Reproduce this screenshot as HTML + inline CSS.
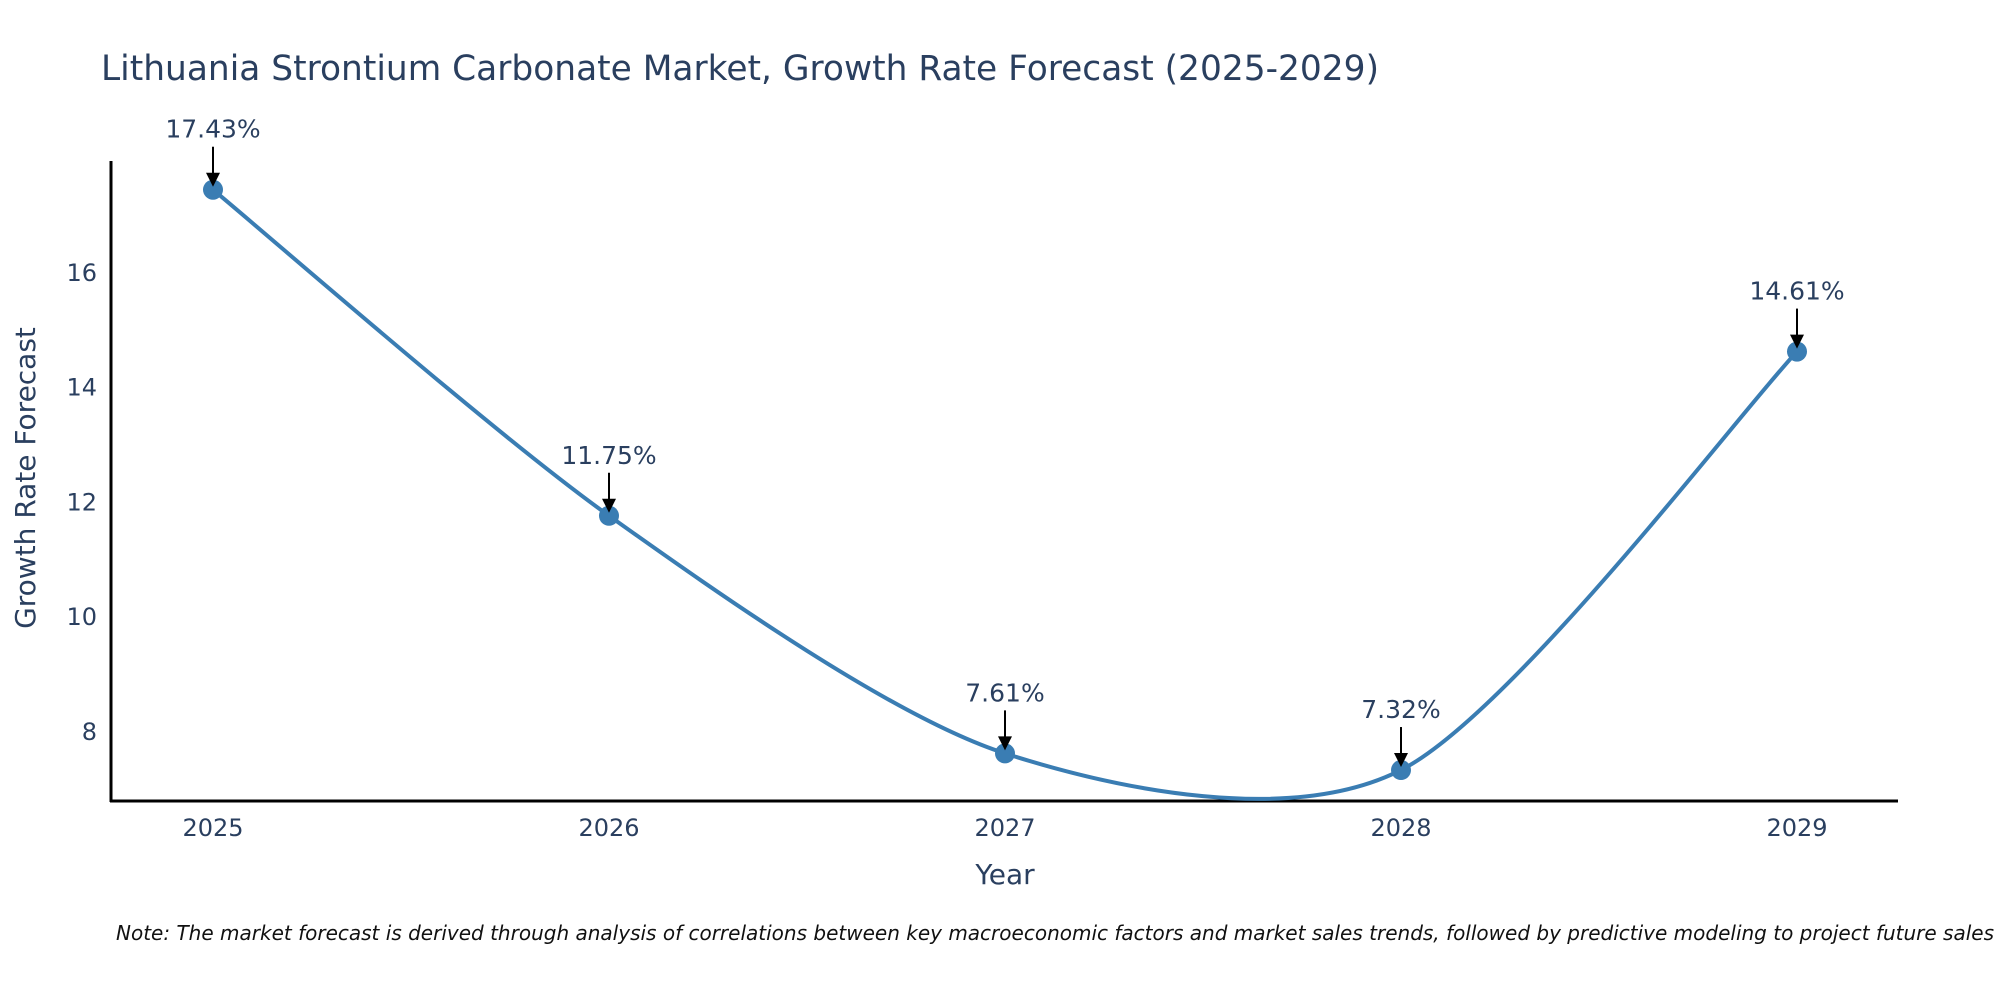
<!DOCTYPE html>
<html><head><meta charset="utf-8"><style>
html,body{margin:0;padding:0;background:#fff;width:2000px;height:1000px;overflow:hidden}
svg text{font-family:"DejaVu Sans","Liberation Sans",sans-serif;fill:#2a3f5f}
</style></head><body>
<svg id="chart" width="2000" height="1000" xmlns="http://www.w3.org/2000/svg">
<text x="101" y="80" font-size="35" textLength="1278" lengthAdjust="spacingAndGlyphs">Lithuania Strontium Carbonate Market, Growth Rate Forecast (2025-2029)</text>
<g id="yticks"></g>
<g id="xticks"></g>
<line x1="111" y1="161" x2="111" y2="802" stroke="#000" stroke-width="3"/>
<line x1="110" y1="801" x2="1898" y2="801" stroke="#000" stroke-width="3"/>
<path id="line" fill="none" stroke="#3a7db3" stroke-width="4"/>
<g id="marks"></g>
<g id="annos"></g>
<text transform="translate(35,478) rotate(-90)" text-anchor="middle" font-size="28">Growth Rate Forecast</text>
<text x="1005" y="884" text-anchor="middle" font-size="28">Year</text>
<text x="116" y="940" font-size="20" font-style="italic" style="fill:#111" textLength="1878" lengthAdjust="spacingAndGlyphs">Note: The market forecast is derived through analysis of correlations between key macroeconomic factors and market sales trends, followed by predictive modeling to project future sales</text>
</svg>
<script>
const years = [2025, 2026, 2027, 2028, 2029];
const values = [17.43, 11.75, 7.61, 7.32, 14.61];
const labels = ["17.43%", "11.75%", "7.61%", "7.32%", "14.61%"];
const yTicks = [8, 10, 12, 14, 16];

const NS = "http://www.w3.org/2000/svg";
function xs(v){ return 213 + (v - 2025) * 396; }
function ys(v){ return 731 - (v - 8) * 57.4; }
function el(tag, attrs, parent){ const e=document.createElementNS(NS,tag); for(const k in attrs) e.setAttribute(k,attrs[k]); parent.appendChild(e); return e; }

const yg=document.getElementById('yticks');
yTicks.forEach(t=>{
  const e=el('text',{x:97,y:ys(t)+9,'text-anchor':'end','font-size':24},yg);
  
  
  e.textContent=t;
});
const xg=document.getElementById('xticks');
years.forEach(t=>{
  const e=el('text',{x:xs(t),y:836,'text-anchor':'middle','font-size':24},xg);
  
  
  e.textContent=t;
});

const P=years.map((y,i)=>[xs(y),ys(values[i])]);
let d='M'+P[0][0]+','+P[0][1];
for(let i=0;i<P.length-1;i++){
  const p0=P[Math.max(0,i-1)],p1=P[i],p2=P[i+1],p3=P[Math.min(P.length-1,i+2)];
  const k=0.14;
  const c1=[p1[0]+(p2[0]-p0[0])*k,p1[1]+(p2[1]-p0[1])*k];
  const c2=[p2[0]-(p3[0]-p1[0])*k,p2[1]-(p3[1]-p1[1])*k];
  d+=' C'+c1+' '+c2+' '+p2;
}
document.getElementById('line').setAttribute('d',d);

const mg=document.getElementById('marks'), ag=document.getElementById('annos');
P.forEach((p,i)=>{
  const c=el('circle',{cx:p[0],cy:p[1],r:10,fill:'#3a7db3'},mg);
  
  
  const l=el('line',{x1:p[0],y1:p[1]-43,x2:p[0],y2:p[1]-14,stroke:'#000','stroke-width':2},ag);
  
  
  const h=el('polygon',{points:(p[0]-7)+','+(p[1]-17)+' '+(p[0]+7)+','+(p[1]-17)+' '+p[0]+','+(p[1]-3),fill:'#000'},ag);
  
  
  const t=el('text',{x:p[0],y:p[1]-52,'text-anchor':'middle','font-size':25},ag);
  
  
  t.textContent=labels[i];
});
</script>
</body></html>
